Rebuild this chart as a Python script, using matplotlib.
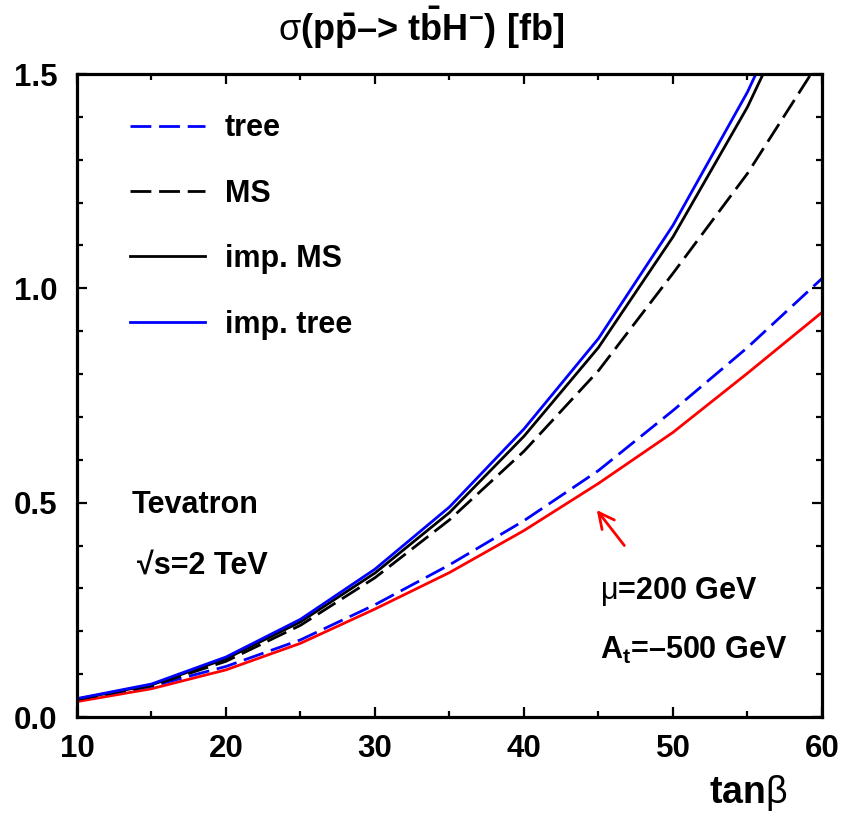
import matplotlib
matplotlib.use("Agg")
import matplotlib.pyplot as plt
from matplotlib.ticker import MultipleLocator, FixedLocator

plt.rcParams['font.family'] = ['Liberation Sans', 'DejaVu Sans']
plt.rcParams['mathtext.fontset'] = 'custom'
plt.rcParams['mathtext.rm'] = 'Liberation Sans'
plt.rcParams['mathtext.bf'] = 'Liberation Sans:bold'
plt.rcParams['mathtext.it'] = 'Liberation Sans:italic'

# ---- data ----
tanb = [10, 15, 20, 25, 30, 35, 40, 45, 50, 55, 60]
tree = [0.042, 0.072, 0.118, 0.180, 0.262, 0.355, 0.458, 0.575, 0.715, 0.862, 1.023]
ms = [0.041, 0.073, 0.130, 0.214, 0.325, 0.460, 0.620, 0.808, 1.035, 1.268, 1.540]
imp_ms = [0.042, 0.075, 0.136, 0.222, 0.336, 0.477, 0.655, 0.862, 1.120, 1.423, 1.790]
imp_tree = [0.043, 0.077, 0.140, 0.228, 0.345, 0.490, 0.672, 0.883, 1.147, 1.458, 1.830]
other = [0.036, 0.066, 0.110, 0.172, 0.252, 0.337, 0.435, 0.545, 0.664, 0.802, 0.944]

xticks = [10, 20, 30, 40, 50, 60]
yticks = [0.0, 0.5, 1.0, 1.5]
yticklabels = ["0.0", "0.5", "1.0", "1.5"]

fig = plt.figure(figsize=(8.46, 8.15), dpi=100)
ax = fig.add_axes([0.091, 0.1202, 0.8806, 0.789])

dash = (0, (7.5, 2.8))
lw = 2.0
ax.plot(tanb, other, color='#ff0000', lw=lw)
ax.plot(tanb, tree, color='#0000ff', lw=lw, ls=dash, label='tree')
ax.plot(tanb, ms, color='black', lw=lw, ls=dash, label='MS')
ax.plot(tanb, imp_ms, color='black', lw=lw, label='imp. MS')
ax.plot(tanb, imp_tree, color='#0000ff', lw=lw, label='imp. tree')

ax.set_xlim(10, 60)
ax.set_ylim(0, 1.5)
ax.xaxis.set_major_locator(FixedLocator(xticks))
ax.xaxis.set_minor_locator(MultipleLocator(5))
ax.yaxis.set_major_locator(FixedLocator(yticks))
ax.yaxis.set_minor_locator(MultipleLocator(0.1))
ax.set_yticklabels(yticklabels)
ax.tick_params(which='both', direction='in', top=True, right=True, width=1.6)
ax.tick_params(which='major', length=7.5, labelsize=22.5, pad=12)
ax.tick_params(which='minor', length=4.5)
ax.tick_params(axis='y', which='major', pad=14)
for lab in ax.get_xticklabels() + ax.get_yticklabels():
    lab.set_fontweight('bold')
for s in ax.spines.values():
    s.set_linewidth(2.3)

leg = ax.legend(loc='upper left', bbox_to_anchor=(0.071, 0.939), frameon=False,
                prop={'size': 22, 'weight': 'bold'}, handlelength=2.45,
                handletextpad=0.65, labelspacing=1.16, borderpad=0, borderaxespad=0)

tb = dict(fontsize=22, fontweight='bold', va='baseline', ha='left')
ax.text(13.69, 0.4766, 'Tevatron', **tb)
ax.text(14.0, 0.334, '√s=2 TeV', **tb)
ax.text(45.1, 0.2757, r'$\mathrm{\mu}$=200 GeV', **tb)
ax.text(45.1, 0.1355, r'A$_\mathbf{t}$=–500 GeV', **tb)

ax.annotate('', xy=(44.77, 0.488), xytext=(46.85, 0.395),
            arrowprops=dict(arrowstyle='->', color='#ff0000', lw=2.0, mutation_scale=28))

fig.text(421 / 846, 1 - 41 / 815,
         r'$\mathrm{\sigma}$(p$\mathbf{\bar{p}}$–> t$\mathbf{\bar{b}}$H$^\mathbf{-}$) [fb]',
         fontsize=26, fontweight='bold', ha='center', va='baseline')
fig.text(787 / 846, 1 - 803 / 815, r'$\mathbf{tan}\mathrm{\beta}$', fontsize=27,
         ha='right', va='baseline')

fig.savefig('out.png', dpi=100)
